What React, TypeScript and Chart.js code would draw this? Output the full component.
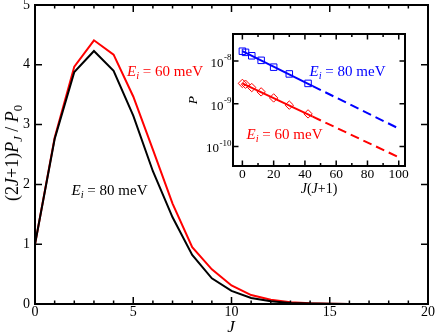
import React, { useEffect, useRef } from 'react';
import { Chart, registerables } from 'chart.js';

Chart.register(...registerables);

// ---- main panel data ----
const J_VALUES = [0, 1, 2, 3, 4, 5, 6, 7, 8, 9, 10, 11, 12, 13, 14, 15, 16, 17, 18, 19, 20];
const RATIO_60 = [1.0, 2.78, 3.97, 4.41, 4.17, 3.47, 2.58, 1.68, 0.95, 0.58, 0.31, 0.15, 0.07, 0.03, 0.012, 0.005, 0.002, 0.0008, 0.0003, 0.0001, 0];
const RATIO_80 = [1.0, 2.76, 3.88, 4.23, 3.9, 3.15, 2.22, 1.45, 0.82, 0.43, 0.22, 0.1, 0.045, 0.018, 0.007, 0.0025, 0.001, 0.0003, 0.0001, 0, 0];
const MAIN_X_MAJOR = [0, 5, 10, 15, 20];
const MAIN_X_MINOR = [1, 2, 3, 4, 6, 7, 8, 9, 11, 12, 13, 14, 16, 17, 18, 19];
const MAIN_Y_MAJOR = [0, 1, 2, 3, 4, 5];

// ---- inset data ----
const JJ1 = [0, 2, 6, 12, 20, 30, 42];
const P_80 = [1.7e-8, 1.6e-8, 1.33e-8, 1.04e-8, 7.2e-9, 5.0e-9, 3.0e-9];
const P_60 = [3.0e-9, 2.87e-9, 2.4e-9, 1.9e-9, 1.37e-9, 9.3e-10, 5.8e-10];
const FIT_X_SOLID = [0, 45];
const FIT_X_DASHED = [45, 99];
const FIT_80_SOLID = [1.7e-8, 2.6e-9];
const FIT_80_DASHED = [2.6e-9, 2.75e-10];
const FIT_60_SOLID = [3.0e-9, 5.0e-10];
const FIT_60_DASHED = [5.0e-10, 5.85e-11];
const INSET_X_MAJOR = [0, 20, 40, 60, 80, 100];
const INSET_X_MINOR = [10, 30, 50, 70, 90];
const INSET_Y_MAJOR = [1e-10, 1e-9, 1e-8];
const INSET_Y_EXP = ['-10', '-9', '-8'];

const SERIF = '"Liberation Serif", "DejaVu Serif", serif';
const RED = '#ff0000';
const BLUE = '#0000ff';

const pts = (xs: number[], ys: number[]) => xs.map((x, i) => ({ x, y: ys[i] }));

const framePlugin = {
  id: 'frame',
  afterDraw(chart: any, _args: any, opts: any) {
    const { ctx, chartArea: a, scales } = chart;
    const xs = scales.x;
    const ys = scales.y;
    ctx.save();
    ctx.strokeStyle = '#000';
    ctx.lineWidth = opts.tickWidth;
    ctx.beginPath();
    const xt = (vals: number[], len: number) =>
      vals.forEach((v) => {
        const p = xs.getPixelForValue(v);
        ctx.moveTo(p, a.bottom);
        ctx.lineTo(p, a.bottom - len);
        ctx.moveTo(p, a.top);
        ctx.lineTo(p, a.top + len);
      });
    const yt = (vals: number[], len: number) =>
      vals.forEach((v) => {
        const p = ys.getPixelForValue(v);
        ctx.moveTo(a.left, p);
        ctx.lineTo(a.left + len, p);
        ctx.moveTo(a.right, p);
        ctx.lineTo(a.right - len, p);
      });
    xt(opts.xMajor, opts.majorLen);
    xt(opts.xMinor, opts.minorLen);
    yt(opts.yMajor, opts.majorLen);
    ctx.stroke();
    ctx.lineWidth = opts.borderWidth;
    ctx.strokeRect(a.left, a.top, a.right - a.left, a.bottom - a.top);
    if (opts.expLabels) {
      ctx.fillStyle = '#000';
      ctx.textBaseline = 'middle';
      ctx.textAlign = 'left';
      opts.yMajor.forEach((v: number, i: number) => {
        const p = ys.getPixelForValue(v);
        const exp = opts.expLabels[i];
        ctx.font = `13px ${SERIF}`;
        const w10 = ctx.measureText('10').width;
        ctx.font = `9px ${SERIF}`;
        const we = ctx.measureText(exp).width;
        const x0 = a.left - 2 - we - w10;
        ctx.font = `13px ${SERIF}`;
        ctx.fillText('10', x0, p + 2.5);
        ctx.font = `9px ${SERIF}`;
        ctx.fillText(exp, x0 + w10 + 0.5, p - 3);
      });
    }
    ctx.restore();
  },
};

const sub = (content: React.ReactNode, italic = false) => (
  <span style={{ fontSize: '0.7em', position: 'relative', top: '0.35em', fontStyle: italic ? 'italic' : 'normal' }}>{content}</span>
);

const label = (
  left: number,
  top: number,
  color: string,
  size: number,
  content: React.ReactNode,
  rotate = false
) => (
  <div
    style={{
      position: 'absolute',
      left,
      top,
      transform: `translate(-50%, -50%)${rotate ? ' rotate(-90deg)' : ''}`,
      color,
      fontFamily: SERIF,
      fontSize: size,
      lineHeight: 1,
      whiteSpace: 'nowrap',
    }}
  >
    {content}
  </div>
);

export default function App() {
  const mainRef = useRef<HTMLCanvasElement>(null);
  const insetRef = useRef<HTMLCanvasElement>(null);

  useEffect(() => {
    document.body.style.margin = '0';
    Chart.defaults.font.family = SERIF;
    Chart.defaults.color = '#000';

    const main = new Chart(mainRef.current!, {
      type: 'line',
      data: {
        datasets: [
          { data: pts(J_VALUES, RATIO_80), borderColor: '#000', borderWidth: 2, pointRadius: 0, tension: 0, fill: false },
          { data: pts(J_VALUES, RATIO_60), borderColor: RED, borderWidth: 2, pointRadius: 0, tension: 0, fill: false },
        ],
      },
      options: {
        animation: false,
        responsive: false,
        events: [],
        layout: { padding: { top: 5, right: 8, left: 0, bottom: 0 } },
        plugins: {
          legend: { display: false },
          tooltip: { enabled: false },
          frame: {
            xMajor: MAIN_X_MAJOR,
            xMinor: MAIN_X_MINOR,
            yMajor: MAIN_Y_MAJOR,
            majorLen: 7,
            minorLen: 3.5,
            tickWidth: 1.5,
            borderWidth: 2,
          },
        } as any,
        scales: {
          x: {
            type: 'linear',
            min: 0,
            max: 20,
            grid: { display: false, drawTicks: false },
            border: { display: false },
            afterBuildTicks: (s: any) => { s.ticks = MAIN_X_MAJOR.map((value) => ({ value })); },
            ticks: { font: { size: 14 }, padding: 0, maxRotation: 0, autoSkip: false },
            afterFit: (s: any) => { s.height = 31; s.paddingLeft = 0; s.paddingRight = 0; },
          },
          y: {
            type: 'linear',
            min: 0,
            max: 5,
            grid: { display: false, drawTicks: false },
            border: { display: false },
            afterBuildTicks: (s: any) => { s.ticks = MAIN_Y_MAJOR.map((value) => ({ value })); },
            ticks: { font: { size: 14 }, padding: 5 },
            afterFit: (s: any) => { s.width = 35; s.paddingTop = 0; s.paddingBottom = 0; },
          },
        },
      },
      plugins: [framePlugin],
    });

    const inset = new Chart(insetRef.current!, {
      type: 'line',
      data: {
        datasets: [
          { data: pts(FIT_X_DASHED, FIT_80_DASHED), borderColor: BLUE, borderWidth: 2, borderDash: [9, 5], pointRadius: 0, fill: false },
          { data: pts(FIT_X_DASHED, FIT_60_DASHED), borderColor: RED, borderWidth: 2, borderDash: [9, 5], pointRadius: 0, fill: false },
          { data: pts(FIT_X_SOLID, FIT_80_SOLID), borderColor: BLUE, borderWidth: 2, pointRadius: 0, fill: false },
          { data: pts(FIT_X_SOLID, FIT_60_SOLID), borderColor: RED, borderWidth: 2, pointRadius: 0, fill: false },
          {
            data: pts(JJ1, P_80),
            showLine: false,
            pointStyle: 'rect',
            pointRadius: 4.6,
            pointBorderColor: BLUE,
            pointBackgroundColor: 'rgba(0,0,0,0)',
            pointBorderWidth: 1,
            borderColor: BLUE,
            backgroundColor: 'rgba(0,0,0,0)',
          },
          {
            data: pts(JJ1, P_60),
            showLine: false,
            pointStyle: 'rectRot',
            pointRadius: 4.2,
            pointBorderColor: RED,
            pointBackgroundColor: 'rgba(0,0,0,0)',
            pointBorderWidth: 1,
            borderColor: RED,
            backgroundColor: 'rgba(0,0,0,0)',
          },
        ],
      },
      options: {
        animation: false,
        responsive: false,
        events: [],
        layout: { padding: { top: 10, right: 10, left: 0, bottom: 0 } },
        plugins: {
          legend: { display: false },
          tooltip: { enabled: false },
          frame: {
            xMajor: INSET_X_MAJOR,
            xMinor: INSET_X_MINOR,
            yMajor: INSET_Y_MAJOR,
            expLabels: INSET_Y_EXP,
            majorLen: 5.5,
            minorLen: 3,
            tickWidth: 1.5,
            borderWidth: 2,
          },
        } as any,
        scales: {
          x: {
            type: 'linear',
            min: -6,
            max: 104,
            grid: { display: false, drawTicks: false },
            border: { display: false },
            afterBuildTicks: (s: any) => { s.ticks = INSET_X_MAJOR.map((value) => ({ value })); },
            ticks: { font: { size: 13.5 }, padding: 0, maxRotation: 0, autoSkip: false },
            afterFit: (s: any) => { s.height = 38; s.paddingLeft = 0; s.paddingRight = 0; },
          },
          y: {
            type: 'logarithmic',
            min: 3.5e-11,
            max: 4.3e-8,
            grid: { display: false, drawTicks: false },
            border: { display: false },
            afterBuildTicks: (s: any) => { s.ticks = INSET_Y_MAJOR.map((value) => ({ value })); },
            ticks: { display: false },
            afterFit: (s: any) => { s.width = 43; s.paddingTop = 0; s.paddingBottom = 0; },
          },
        },
      },
      plugins: [framePlugin],
    });

    return () => {
      main.destroy();
      inset.destroy();
    };
  }, []);

  return (
    <div style={{ position: 'relative', width: 436, height: 335 }}>
      <canvas ref={mainRef} width={436} height={335} style={{ position: 'absolute', left: 0, top: 0 }} />
      <canvas ref={insetRef} width={225} height={180} style={{ position: 'absolute', left: 190, top: 24 }} />
      {label(12, 152.5, '#000', 18, (
        <>(2<i>J</i>+1)<i>P</i>{sub('J', true)} / <i>P</i>{sub('0')}</>
      ), true)}
      {label(231, 326, '#000', 17, <i>J</i>)}
      {label(165, 70.5, RED, 15, <><i>E</i>{sub('i', true)} = 60 meV</>)}
      {label(109.5, 189.5, '#000', 15, <><i>E</i>{sub('i', true)} = 80 meV</>)}
      {label(347.5, 70.5, BLUE, 15, <><i>E</i>{sub('i', true)} = 80 meV</>)}
      {label(284.5, 133.5, RED, 15, <><i>E</i>{sub('i', true)} = 60 meV</>)}
      {label(193, 100, '#000', 13.5, <i>P</i>, true)}
      {label(319, 189, '#000', 14, <><i>J</i>(<i>J</i>+1)</>)}
    </div>
  );
}
